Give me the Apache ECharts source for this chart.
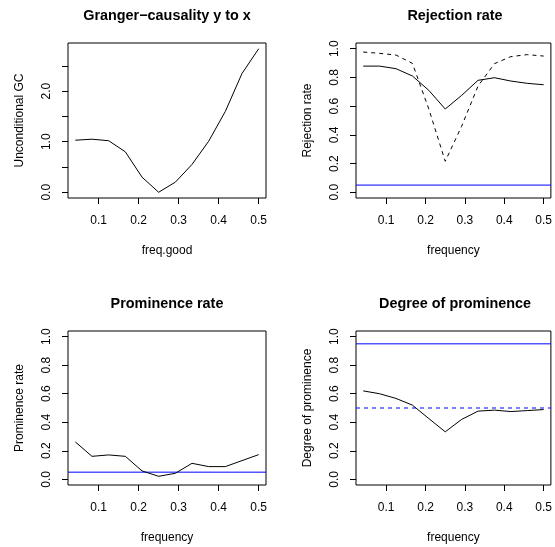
<!DOCTYPE html>
<html>
<head>
<meta charset="utf-8">
<script src="https://cdn.jsdelivr.net/npm/echarts@6/dist/echarts.min.js"></script>
<style>html,body{margin:0;padding:0;background:#fff;}#c{width:555px;height:547px;}</style>
</head>
<body>
<div id="c"></div>
<script>
// ---- data ----
var freq = [0.04167, 0.08333, 0.125, 0.16667, 0.20833, 0.25, 0.29167, 0.33333, 0.375, 0.41667, 0.45833, 0.5];
var gcValues = [1.03, 1.05, 1.02, 0.80, 0.30, 0.00, 0.20, 0.55, 1.01, 1.60, 2.35, 2.84];
var rejectionSolid = [0.879, 0.879, 0.861, 0.81, 0.71, 0.58, 0.675, 0.78, 0.798, 0.775, 0.759, 0.749];
var rejectionDashed = [0.977, 0.968, 0.956, 0.898, 0.58, 0.216, 0.46, 0.74, 0.896, 0.945, 0.959, 0.949];
var prominenceRate = [0.262, 0.161, 0.171, 0.161, 0.059, 0.021, 0.042, 0.112, 0.089, 0.089, 0.131, 0.173];
var degreeProminence = [0.62, 0.60, 0.567, 0.52, 0.426, 0.333, 0.42, 0.478, 0.485, 0.475, 0.482, 0.489];
var nominalLevel = 0.05;
var degreeSolidRef = 0.95;
var degreeDashedRef = 0.5;
var xTicks = [0.1, 0.2, 0.3, 0.4, 0.5];
var gcTicks = [0, 0.5, 1.0, 1.5, 2.0, 2.5];
var gcLabels = [0, 1.0, 2.0];
var rateTicks = [0, 0.2, 0.4, 0.6, 0.8, 1.0];
var titles = ['Granger\u2212causality y to x', 'Rejection rate', 'Prominence rate', 'Degree of prominence'];
var yNames = ['Unconditional GC', 'Rejection rate', 'Prominence rate', 'Degree of prominence'];
var xNames = ['freq.good', 'frequency', 'frequency', 'frequency'];

// ---- helpers ----
var FONT = '"Liberation Sans", Arial, Helvetica, sans-serif';
var BLUE = '#0000ff';
function rLim(lo, hi) { var d = (hi - lo) * 0.04; return [lo - d, hi + d]; }
function pairs(xs, ys) { return xs.map(function (x, i) { return [x, ys[i]]; }); }

var xl = rLim(Math.min.apply(null, freq), Math.max.apply(null, freq));
var gcl = rLim(Math.min.apply(null, gcValues), Math.max.apply(null, gcValues));
var rl = rLim(0, 1);

// horizontal reference line (abline h=value) spanning the full plot region
function abline(idx, value, dashed) {
  return { type: 'line', xAxisIndex: idx, yAxisIndex: idx, symbol: 'none', silent: true, z: 1,
    data: [[xl[0], value], [xl[1], value]], color: BLUE,
    lineStyle: { color: BLUE, width: 1, type: dashed ? [4, 4] : 'solid' } };
}
function curve(idx, ys, dashed) {
  return { type: 'line', xAxisIndex: idx, yAxisIndex: idx, symbol: 'none', silent: true, z: 2,
    data: pairs(freq, ys), color: '#000',
    lineStyle: { color: '#000', width: 1, type: dashed ? [4, 4] : 'solid' } };
}

var grids = [
  { left: 68, top: 43, width: 198, height: 155 },
  { left: 356, top: 43, width: 198, height: 155 },
  { left: 68, top: 331, width: 198, height: 154 },
  { left: 356, top: 331, width: 198, height: 154 }
];

var option = {
  animation: false,
  backgroundColor: '#fff',
  textStyle: { fontFamily: FONT },
  title: grids.map(function (g, i) {
    return {
      text: titles[i], left: g.left + g.width / 2, top: g.top - 27, padding: 0,
      textAlign: 'center', textVerticalAlign: 'middle',
      textStyle: { fontSize: 14.4, fontWeight: 'bold', color: '#000', fontFamily: FONT }
    };
  }),
  grid: grids.map(function (g) {
    return { left: g.left, top: g.top, width: g.width, height: g.height, show: true,
      borderColor: '#000', borderWidth: 1, backgroundColor: 'transparent', containLabel: false };
  }),
  xAxis: grids.map(function (g, i) {
    return {
      type: 'value', gridIndex: i, min: xl[0], max: xl[1],
      name: xNames[i], nameLocation: 'middle', nameGap: 47,
      nameTextStyle: { fontSize: 12, color: '#000', fontFamily: FONT },
      axisLine: { show: false, onZero: false },
      splitLine: { show: false },
      axisTick: { show: true, inside: false, length: 6, customValues: xTicks, lineStyle: { color: '#000', width: 1 } },
      axisLabel: { show: true, customValues: xTicks, margin: 17, fontSize: 12, color: '#000', fontFamily: FONT,
        formatter: function (v) { return v.toFixed(1); } }
    };
  }),
  yAxis: grids.map(function (g, i) {
    var isGc = i === 0;
    return {
      type: 'value', gridIndex: i,
      min: isGc ? gcl[0] : rl[0], max: isGc ? gcl[1] : rl[1],
      name: yNames[i], nameLocation: 'middle', nameGap: 42, nameRotate: 90,
      nameTextStyle: { fontSize: 12, color: '#000', fontFamily: FONT },
      axisLine: { show: false, onZero: false },
      splitLine: { show: false },
      axisTick: { show: true, inside: false, length: 6, customValues: isGc ? gcTicks : rateTicks, lineStyle: { color: '#000', width: 1 } },
      axisLabel: { show: true, rotate: 90, customValues: isGc ? gcLabels : rateTicks, margin: 15, fontSize: 12, color: '#000', fontFamily: FONT,
        formatter: function (v) { return v.toFixed(1); } }
    };
  }),
  series: [
    curve(0, gcValues, false),
    curve(1, rejectionSolid, false),
    curve(1, rejectionDashed, true),
    abline(1, nominalLevel, false),
    curve(2, prominenceRate, false),
    abline(2, nominalLevel, false),
    curve(3, degreeProminence, false),
    abline(3, degreeSolidRef, false),
    abline(3, degreeDashedRef, true)
  ]
};

var chart = echarts.init(document.getElementById('c'), null, { renderer: 'canvas' });
chart.setOption(option);
</script>
</body>
</html>
